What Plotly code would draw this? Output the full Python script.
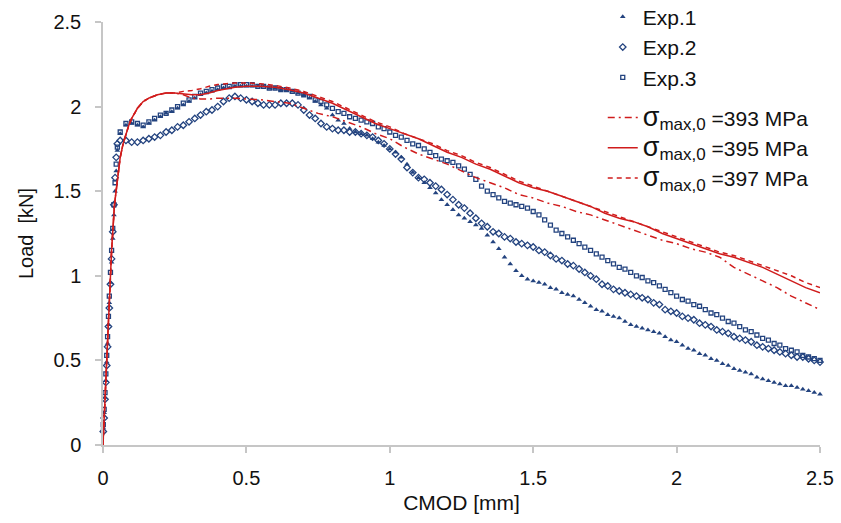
import plotly.graph_objects as go

# CMOD sampling of the measured curves: steep loading branch, then a regular grid
X_PRE = [0.001, 0.004, 0.007, 0.010, 0.013, 0.016, 0.019, 0.022, 0.026, 0.030,
         0.034, 0.038, 0.042, 0.046, 0.050]
X_GRID = [0.06, 0.08, 0.10, 0.12, 0.14, 0.16, 0.18, 0.20, 0.22, 0.24,
          0.26, 0.28, 0.30, 0.32, 0.34, 0.36, 0.38, 0.40, 0.42, 0.44,
          0.46, 0.48, 0.50, 0.52, 0.54, 0.56, 0.58, 0.60, 0.62, 0.64,
          0.66, 0.68, 0.70, 0.72, 0.74, 0.76, 0.78, 0.80, 0.82, 0.84,
          0.86, 0.88, 0.90, 0.92, 0.94, 0.96, 0.98, 1.00, 1.02, 1.04,
          1.06, 1.08, 1.10, 1.12, 1.14, 1.16, 1.18, 1.20, 1.22, 1.24,
          1.26, 1.28, 1.30, 1.32, 1.34, 1.36, 1.38, 1.40, 1.42, 1.44,
          1.46, 1.48, 1.50, 1.52, 1.54, 1.56, 1.58, 1.60, 1.62, 1.64,
          1.66, 1.68, 1.70, 1.72, 1.74, 1.76, 1.78, 1.80, 1.82, 1.84,
          1.86, 1.88, 1.90, 1.92, 1.94, 1.96, 1.98, 2.00, 2.02, 2.04,
          2.06, 2.08, 2.10, 2.12, 2.14, 2.16, 2.18, 2.20, 2.22, 2.24,
          2.26, 2.28, 2.30, 2.32, 2.34, 2.36, 2.38, 2.40, 2.42, 2.44,
          2.46, 2.48, 2.50]

# Load [kN] of the three tests
EXP1_PRE = [0.10, 0.19, 0.28, 0.38, 0.49, 0.60, 0.71, 0.84, 0.96, 1.08,
            1.22, 1.36, 1.50, 1.62, 1.74]
EXP1 = [1.84, 1.89, 1.90, 1.89, 1.88, 1.90, 1.92, 1.94, 1.96, 1.97,
        1.99, 2.01, 2.03, 2.05, 2.07, 2.08, 2.09, 2.10, 2.11, 2.11,
        2.12, 2.12, 2.12, 2.12, 2.12, 2.12, 2.11, 2.11, 2.10, 2.10,
        2.09, 2.08, 2.07, 2.05, 2.03, 2.01, 1.99, 1.95, 1.92, 1.90,
        1.87, 1.85, 1.84, 1.83, 1.81, 1.79, 1.77, 1.75, 1.73, 1.70,
        1.66, 1.61, 1.58, 1.55, 1.52, 1.49, 1.45, 1.42, 1.39, 1.36,
        1.34, 1.32, 1.30, 1.28, 1.24, 1.20, 1.16, 1.11, 1.07, 1.03,
        1.00, 0.98, 0.97, 0.96, 0.95, 0.93, 0.92, 0.90, 0.89, 0.88,
        0.86, 0.84, 0.82, 0.80, 0.79, 0.77, 0.76, 0.75, 0.73, 0.71,
        0.70, 0.69, 0.68, 0.67, 0.66, 0.64, 0.62, 0.61, 0.59, 0.57,
        0.56, 0.54, 0.53, 0.51, 0.50, 0.48, 0.47, 0.45, 0.44, 0.43,
        0.42, 0.40, 0.39, 0.38, 0.37, 0.36, 0.35, 0.35, 0.34, 0.33,
        0.32, 0.31, 0.30]

EXP2_PRE = [0.08, 0.16, 0.27, 0.37, 0.47, 0.58, 0.70, 0.81, 0.95, 1.10,
            1.26, 1.42, 1.58, 1.70, 1.78]
EXP2 = [1.80, 1.80, 1.79, 1.79, 1.80, 1.81, 1.82, 1.83, 1.85, 1.86,
        1.88, 1.89, 1.91, 1.93, 1.95, 1.97, 1.98, 2.00, 2.03, 2.05,
        2.06, 2.05, 2.04, 2.03, 2.02, 2.01, 2.01, 2.01, 2.02, 2.02,
        2.02, 2.01, 1.98, 1.95, 1.93, 1.90, 1.88, 1.87, 1.86, 1.86,
        1.85, 1.85, 1.84, 1.83, 1.82, 1.80, 1.78, 1.75, 1.72, 1.69,
        1.64, 1.61, 1.58, 1.57, 1.55, 1.53, 1.51, 1.48, 1.45, 1.42,
        1.40, 1.37, 1.34, 1.31, 1.29, 1.26, 1.25, 1.23, 1.22, 1.20,
        1.19, 1.18, 1.17, 1.15, 1.14, 1.12, 1.10, 1.09, 1.07, 1.06,
        1.04, 1.02, 1.00, 0.98, 0.95, 0.94, 0.92, 0.91, 0.90, 0.89,
        0.88, 0.87, 0.86, 0.84, 0.83, 0.80, 0.79, 0.78, 0.76, 0.75,
        0.74, 0.72, 0.71, 0.70, 0.68, 0.67, 0.66, 0.64, 0.63, 0.62,
        0.61, 0.59, 0.58, 0.57, 0.56, 0.55, 0.54, 0.53, 0.52, 0.52,
        0.51, 0.50, 0.49]

EXP3_PRE = [0.12, 0.21, 0.31, 0.42, 0.53, 0.64, 0.76, 0.88, 1.02, 1.15,
            1.28, 1.42, 1.55, 1.66, 1.76]
EXP3 = [1.85, 1.90, 1.91, 1.90, 1.89, 1.91, 1.93, 1.95, 1.96, 1.98,
        2.00, 2.02, 2.04, 2.06, 2.08, 2.09, 2.10, 2.11, 2.12, 2.12,
        2.13, 2.13, 2.13, 2.13, 2.12, 2.12, 2.11, 2.11, 2.10, 2.10,
        2.09, 2.08, 2.07, 2.06, 2.04, 2.03, 2.01, 1.99, 1.97, 1.96,
        1.94, 1.93, 1.92, 1.91, 1.90, 1.88, 1.87, 1.85, 1.83, 1.82,
        1.80, 1.78, 1.77, 1.75, 1.73, 1.71, 1.69, 1.68, 1.67, 1.65,
        1.63, 1.60, 1.57, 1.53, 1.50, 1.48, 1.46, 1.44, 1.43, 1.42,
        1.41, 1.40, 1.38, 1.36, 1.33, 1.30, 1.27, 1.25, 1.23, 1.21,
        1.19, 1.17, 1.15, 1.13, 1.11, 1.09, 1.07, 1.05, 1.04, 1.02,
        1.00, 0.99, 0.97, 0.96, 0.94, 0.92, 0.90, 0.88, 0.86, 0.85,
        0.83, 0.82, 0.80, 0.78, 0.77, 0.75, 0.73, 0.72, 0.70, 0.68,
        0.67, 0.65, 0.63, 0.62, 0.60, 0.59, 0.57, 0.56, 0.55, 0.53,
        0.52, 0.51, 0.50]

# Simulated curves for three values of sigma_max,0
MODEL_X = [0.00, 0.01, 0.02, 0.03, 0.04, 0.05, 0.06, 0.07, 0.08, 0.09,
           0.10, 0.12, 0.14, 0.16, 0.19, 0.22, 0.25, 0.28, 0.31, 0.34,
           0.37, 0.40, 0.43, 0.46, 0.50, 0.55, 0.60, 0.65, 0.70, 0.75,
           0.80, 0.85, 0.90, 0.95, 1.00,
           1.05, 1.10, 1.15, 1.20, 1.25, 1.30, 1.35, 1.40, 1.45, 1.50,
           1.55, 1.60, 1.65, 1.70, 1.75, 1.80, 1.85, 1.90, 1.95, 2.00,
           2.05, 2.10, 2.15, 2.20, 2.25, 2.30, 2.35, 2.40, 2.45, 2.50]
SIM_393 = [0.00, 0.38, 0.77, 1.15, 1.42, 1.58, 1.70, 1.78, 1.84, 1.89,
           1.93, 1.99, 2.03, 2.05, 2.07, 2.08, 2.08, 2.07, 2.05, 2.045,
           2.045, 2.05, 2.05, 2.05, 2.045, 2.04, 2.03, 2.02, 1.99, 1.96,
           1.94, 1.91, 1.88, 1.84, 1.81,
           1.76, 1.72, 1.69, 1.66, 1.62, 1.58, 1.55, 1.52, 1.48, 1.46,
           1.43, 1.41, 1.38, 1.36, 1.33, 1.30, 1.27, 1.24, 1.21, 1.19,
           1.16, 1.14, 1.11, 1.05, 1.01, 0.97, 0.93, 0.88, 0.84, 0.80]
SIM_395 = [0.00, 0.38, 0.77, 1.15, 1.42, 1.58, 1.70, 1.78, 1.84, 1.89,
           1.93, 1.99, 2.03, 2.05, 2.07, 2.08, 2.08, 2.075, 2.07, 2.07,
           2.08, 2.095, 2.105, 2.115, 2.12, 2.12, 2.115, 2.10, 2.08, 2.05,
           2.02, 1.98, 1.94, 1.90, 1.87,
           1.84, 1.81, 1.77, 1.73, 1.70, 1.66, 1.63, 1.59, 1.55, 1.52,
           1.50, 1.47, 1.44, 1.41, 1.37, 1.34, 1.32, 1.29, 1.25, 1.22,
           1.19, 1.16, 1.13, 1.11, 1.08, 1.05, 1.01, 0.97, 0.93, 0.90]
SIM_397 = [0.00, 0.38, 0.77, 1.15, 1.42, 1.58, 1.70, 1.78, 1.84, 1.89,
           1.93, 1.99, 2.03, 2.05, 2.07, 2.08, 2.08, 2.09, 2.095, 2.105,
           2.12, 2.13, 2.135, 2.14, 2.14, 2.135, 2.125, 2.11, 2.09, 2.06,
           2.03, 1.99, 1.95, 1.91, 1.88,
           1.84, 1.81, 1.78, 1.74, 1.71, 1.67, 1.64, 1.60, 1.56, 1.53,
           1.50, 1.47, 1.44, 1.41, 1.38, 1.35, 1.32, 1.29, 1.26, 1.23,
           1.20, 1.17, 1.14, 1.12, 1.09, 1.06, 1.03, 1.00, 0.96, 0.93]

X_TICKS = [0, 0.5, 1, 1.5, 2, 2.5]
X_TICK_TEXT = ["0", "0.5", "1", "1.5", "2", "2.5"]
Y_TICKS = [0, 0.5, 1, 1.5, 2, 2.5]
Y_TICK_TEXT = ["0", "0.5", "1", "1.5", "2", "2.5"]

BLUE = "#23437F"
RED = "#D01C1C"
AXIS_GREY = "#C6C6C6"
INK = "#111111"
FONT = "Liberation Sans, Arial, sans-serif"


def sigma_label(value):
    return ('<span style="font-size:27px">σ</span>'
            '<sub><span style="font-size:17px">max,0</span></sub>'
            f' ={value} MPa')


fig = go.Figure()

experiments = [
    ("Exp.1", EXP1_PRE + EXP1, dict(symbol="triangle-up", size=5, color=BLUE,
                                     line=dict(width=0))),
    ("Exp.2", EXP2_PRE + EXP2, dict(symbol="diamond-open", size=5, color=BLUE,
                                     line=dict(width=1.3))),
    ("Exp.3", EXP3_PRE + EXP3, dict(symbol="square-open", size=4, color=BLUE,
                                     line=dict(width=1.3))),
]
for name, load, marker in experiments:
    fig.add_trace(go.Scatter(
        x=X_PRE + X_GRID, y=load, mode="markers", name=name,
        marker=marker, cliponaxis=False, legend="legend",
    ))

models = [
    (393, SIM_393, "7px,4px,2px,4px"),
    (395, SIM_395, "solid"),
    (397, SIM_397, "5px,4px"),
]
for value, load, dash in models:
    fig.add_trace(go.Scatter(
        x=MODEL_X, y=load, mode="lines", name=sigma_label(value),
        line=dict(color=RED, width=1.5, dash=dash), legend="legend2",
    ))

axis_common = dict(
    showline=True, linecolor=AXIS_GREY, linewidth=1.5,
    ticks="outside", ticklen=6, tickwidth=1.5, tickcolor=AXIS_GREY,
    showgrid=False, zeroline=False,
    tickfont=dict(family=FONT, size=20, color=INK),
    automargin=False,
)

legend_common = dict(
    xanchor="left", yanchor="top",
    font=dict(family=FONT, size=21, color=INK),
    bgcolor="rgba(0,0,0,0)", itemwidth=30,
)

fig.update_layout(
    width=841, height=523,
    margin=dict(l=103, r=21, t=22, b=78, autoexpand=False),
    paper_bgcolor="white", plot_bgcolor="white",
    font=dict(family=FONT, size=20, color=INK),
    xaxis=dict(range=[0, 2.5], tickvals=X_TICKS, ticktext=X_TICK_TEXT,
               ticklabelstandoff=8,
               title=dict(text="CMOD [mm]", font=dict(size=21), standoff=8),
               **axis_common),
    yaxis=dict(range=[0, 2.5], tickvals=Y_TICKS, ticktext=Y_TICK_TEXT,
               ticklabelstandoff=10,
               title=dict(text="Load\u00a0 [kN]", font=dict(size=20), standoff=14),
               **axis_common),
    showlegend=True,
    legend=dict(x=0.697, y=1.06, **legend_common),
    legend2=dict(x=0.697, y=0.822, **legend_common),
)

fig.write_html("out.html")
